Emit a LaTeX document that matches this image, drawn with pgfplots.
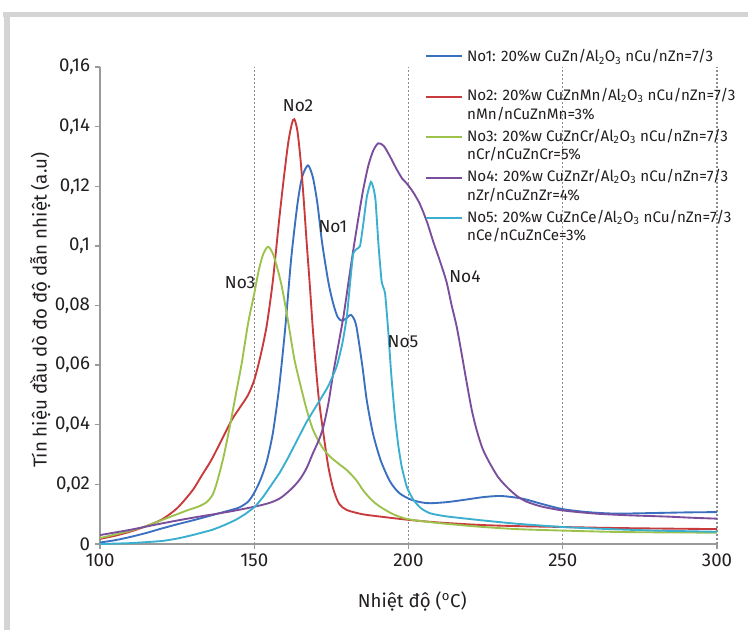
\documentclass[border=0pt]{standalone}
\usepackage{pgfplots}
\pgfplotsset{compat=1.18}
\usepackage{fontspec}
\setmainfont{Fira Sans}

\definecolor{cblue}{HTML}{3A70BF}
\definecolor{cred}{HTML}{C93A3C}
\definecolor{cgreen}{HTML}{9CC24C}
\definecolor{cpurple}{HTML}{7A4E9C}
\definecolor{ccyan}{HTML}{3AAFCF}
\definecolor{axisgray}{HTML}{9A9A9A}
\definecolor{gridgray}{HTML}{8C8C8C}
\definecolor{framegray}{HTML}{D4D4D4}
\definecolor{txt}{HTML}{231F20}

\newcommand{\legtext}[2]{\parbox[b]{9cm}{\strut #1\\#2\strut}}

\begin{document}
\begin{tikzpicture}
\fill[white] (0,0) rectangle (561pt,472.5pt);
\path[use as bounding box] (0,0) rectangle (561pt,472.5pt);
% grey frame, top and left
\fill[framegray] (2.25pt,459.75pt) rectangle (561pt,463.5pt);
\fill[framegray] (3pt,0pt) rectangle (7.5pt,463.5pt);

\begin{axis}[
  at={(75pt,64.5pt)}, anchor=south west,
  scale only axis, width=462.75pt, height=357.75pt,
  xmin=100, xmax=300, ymin=0, ymax=0.16,
  clip=false,
  axis x line*=bottom, axis y line*=left,
  axis line style={draw=axisgray, line width=1.2pt},
  xtick={100,150,200,250,300},
  xticklabels={100,150,200,250,300},
  ytick={0,0.02,0.04,0.06,0.08,0.1,0.12,0.14,0.16},
  yticklabels={0,{0,02},{0,04},{0,06},{0,08},{0,1},{0,12},{0,14},{0,16}},
  scaled y ticks=false,
  tick align=outside, major tick length=4pt,
  tick style={draw=axisgray, line width=1pt},
  tick label style={font=\fontsize{14}{16}\selectfont, text=txt},
  xmajorgrids,
  major x grid style={draw=gridgray, line width=0.9pt, dash pattern=on 1.2pt off 1.8pt},
  xlabel={Nhiệt độ (\textsuperscript{o}C)},
  ylabel={Tín hiệu đầu dò đo độ dẫn nhiệt (a.u)},
  every axis x label/.style={at={(axis description cs:0.506,-0.12)}, anchor=center,
    font=\fontsize{14}{16}\selectfont, text=txt},
  every axis y label/.style={at={(axis description cs:-0.097,0.49)}, rotate=90, anchor=center,
    font=\fontsize{14}{16}\selectfont, text=txt},
  every axis plot/.append style={smooth, tension=0.45, line width=1.4pt, no markers},
  legend cell align=left,
  legend style={draw=none, fill=none, inner sep=0pt, at={(0.5267,1.037)}, anchor=north west,
    font=\fontsize{11.4}{12.7}\selectfont, text=txt, row sep=5.7pt,
    nodes={inner sep=0pt, anchor=base west}},
  legend image code/.code={\draw[#1, line width=1.4pt] (0pt,17pt) -- (27pt,17pt); \path (30pt,17pt);},
]
% No1
\addplot[cblue] coordinates {
(100,0.0005) (105,0.0013) (110,0.0024) (115,0.0037) (120,0.0052) (125,0.0066)
(130,0.0079) (135,0.0093) (140,0.0107) (145,0.0122) (148,0.0142) (150,0.0172)
(152,0.0215) (154,0.0275) (156,0.0370) (158,0.0520) (160,0.0720) (162,0.0960)
(164,0.1140) (165.5,0.1230) (167.4,0.1270) (169,0.1230) (170.5,0.1140) (172,0.1010)
(174,0.0880) (175.5,0.0810) (177,0.0762) (178.4,0.0749) (180,0.0758) (181.4,0.0768)
(183,0.0735) (185,0.0600) (186.5,0.0480) (188.5,0.0370) (191,0.0280) (194,0.0210)
(197,0.0171) (201,0.0148) (206,0.0137) (212,0.0140) (218,0.0148) (224,0.0157)
(230,0.0161) (237,0.0152) (243,0.0135) (250,0.0117) (258,0.0107) (267,0.0102)
(280,0.0104) (290,0.0106) (300,0.0107)
};
\addlegendentry{\legtext{No1: 20\%w CuZn/Al\textsubscript{2}O\textsubscript{3} nCu/nZn=7/3}{}}
% No2
\addplot[cred] coordinates {
(100,0.0017) (105,0.0028) (110,0.0042) (115,0.0060) (120,0.0082) (125,0.0120)
(130,0.0180) (133,0.0230) (136,0.0280) (139,0.0340) (142.7,0.0416) (145.5,0.0460)
(148,0.0500) (150,0.0550) (152,0.0630) (154,0.0730) (156,0.0880) (158,0.1080)
(159.5,0.1220) (161,0.1345) (162.2,0.1410) (163,0.1425) (164,0.1385) (165,0.1290)
(166,0.1160) (167,0.1010) (168,0.0870) (169,0.0720) (170,0.0590) (171,0.0480)
(172.4,0.0372) (174,0.0260) (175.6,0.0185) (177.5,0.0135) (180,0.0114) (185,0.0100)
(190.8,0.0092) (200,0.0081) (210,0.0072) (223,0.0064) (235,0.0060) (250,0.0057)
(265,0.0054) (280,0.0052) (300,0.0050)
};
\addlegendentry{\legtext{No2: 20\%w CuZnMn/Al\textsubscript{2}O\textsubscript{3} nCu/nZn=7/3}{nMn/nCuZnMn=3\%}}
% No3
\addplot[cgreen] coordinates {
(100,0.0020) (105,0.0032) (110,0.0045) (115,0.0060) (120,0.0080) (125,0.0100)
(128.6,0.0114) (132,0.0126) (134.5,0.0140) (136.5,0.0165) (138,0.0210) (140,0.0290)
(142,0.0390) (144,0.0500) (146,0.0610) (148,0.0740) (150,0.0840) (151.5,0.0920)
(153,0.0975) (154.5,0.0997) (156,0.0975) (157.5,0.0925) (159,0.0860) (160.5,0.0775)
(161.6,0.0707) (163,0.0620) (164.8,0.0540) (167,0.0450) (169.1,0.0382) (172,0.0325)
(174.6,0.0293) (177.5,0.0268) (180,0.0248) (183,0.0215) (185.3,0.0180) (188,0.0148)
(190.8,0.0125) (195,0.0100) (200,0.0083) (210,0.0070) (223,0.0058) (235,0.0050)
(250,0.0045) (270,0.0040) (300,0.0038)
};
\addlegendentry{\legtext{No3: 20\%w CuZnCr/Al\textsubscript{2}O\textsubscript{3} nCu/nZn=7/3}{nCr/nCuZnCr=5\%}}
% No4
\addplot[cpurple] coordinates {
(100,0.0030) (110,0.0048) (120,0.0069) (130,0.0088) (141.6,0.0108) (150,0.0125)
(155,0.0138) (158.3,0.0153) (161,0.0175) (163,0.0195) (165,0.0220) (167,0.0255)
(169,0.0304) (171,0.0350) (172.4,0.0393) (174,0.0470) (175.6,0.0573) (177.3,0.0670)
(178.9,0.0762) (180.5,0.0875) (182.1,0.0986) (183.7,0.1090) (185.3,0.1188) (187,0.1270)
(188.6,0.1320) (190.2,0.1344) (192,0.1335) (194,0.1300) (196,0.1260) (198,0.1225)
(199.4,0.1210) (201.5,0.1180) (203.7,0.1140) (206,0.1080) (208,0.1015) (210,0.0955)
(212.3,0.0880) (214,0.0800) (215.6,0.0730) (217.2,0.0640) (218.8,0.0545) (220.5,0.0450)
(222.1,0.0382) (224,0.0320) (226.4,0.0270) (229,0.0225) (231.8,0.0192) (235,0.0162)
(238.3,0.0142) (243,0.0126) (249,0.0114) (255,0.0107) (262,0.0101) (272,0.0096)
(283.7,0.0092) (292,0.0088) (300,0.0085)
};
\addlegendentry{\legtext{No4: 20\%w CuZnZr/Al\textsubscript{2}O\textsubscript{3} nCu/nZn=7/3}{nZr/nCuZnZr=4\%}}
% No5
\addplot[ccyan, tension=0.3] coordinates {
(100,0.0000) (110,0.0003) (120,0.0010) (125.4,0.0019) (130,0.0030) (136.2,0.0047)
(140,0.0062) (143.8,0.0080) (147,0.0100) (150.2,0.0125) (153,0.0160) (156,0.0205)
(158.3,0.0240) (161,0.0290) (164,0.0350) (167,0.0410) (171.3,0.0483) (174,0.0530)
(176.7,0.0595) (178.5,0.0670) (180,0.0762) (181.2,0.0890) (182.1,0.0975) (183.3,0.0990)
(184.3,0.1000) (185.3,0.1070) (186.5,0.1165) (187.8,0.1215) (188.6,0.1195) (189.3,0.1154)
(190.3,0.1000) (191.3,0.0880) (192.4,0.0841) (193.4,0.0718) (194.4,0.0570) (195.6,0.0427)
(196.7,0.0330) (197.8,0.0259) (199.5,0.0190) (201.6,0.0148) (204,0.0120) (207,0.0103)
(212,0.0093) (223.2,0.0080) (235,0.0068) (250,0.0057) (265,0.0050) (280,0.0045)
(300,0.0041)
};
\addlegendentry{\legtext{No5: 20\%w CuZnCe/Al\textsubscript{2}O\textsubscript{3} nCu/nZn=7/3}{nCe/nCuZnCe=3\%}}

\begin{scope}[every node/.style={font=\fontsize{13}{15}\selectfont, text=txt}]
\node at (axis cs:164.2,0.1470) {No2};
\node at (axis cs:175.5,0.1063) {No1};
\node at (axis cs:145.4,0.0876) {No3};
\node at (axis cs:218.3,0.0896) {No4};
\node at (axis cs:198.2,0.0678) {No5};
\end{scope}
\end{axis}
\end{tikzpicture}
\end{document}
